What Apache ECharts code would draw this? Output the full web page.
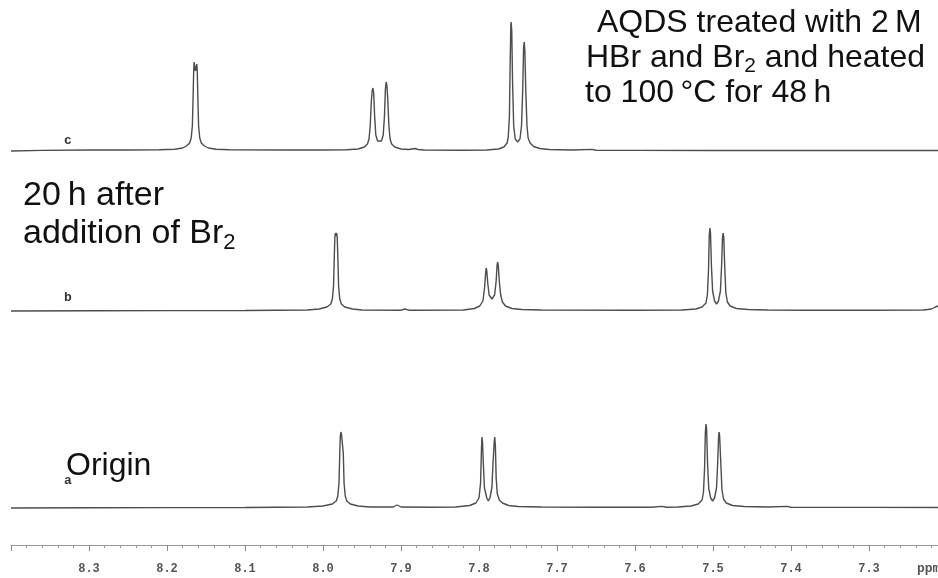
<!DOCTYPE html>
<html>
<head>
<meta charset="utf-8">
<script src="https://cdn.jsdelivr.net/npm/echarts@6/dist/echarts.min.js"></script>
<style>html,body{margin:0;padding:0;background:#fff;overflow:hidden}#c{width:947px;height:578px}</style>
</head>
<body>
<div id="c"></div>
<script>
// Chemical shift axis (ppm) tick labels are produced by the axis (0.1 ppm steps)
const axisMin = 7.2, axisMax = 8.4;

// Trace c: AQDS treated with 2 M HBr and Br2, heated 100 °C 48 h  [ppm, intensity]
const traceC = [
[8.40,0],[8.36,0.6],[8.30,1],[8.25,1],[8.21,1.2],[8.19,1.8],[8.18,3],[8.175,5],[8.171,8],[8.169,13],[8.1675,25],[8.1665,55],[8.1658,80],[8.1652,89],[8.1643,83],[8.1635,80],[8.1627,84],[8.1618,87],[8.1612,80],[8.1605,55],[8.1595,25],[8.158,13],[8.156,8],[8.152,5],[8.147,3],[8.137,1.8],[8.12,1.2],[8.05,1],[8.00,1],
[7.97,1.2],[7.955,2],[7.947,4],[7.943,7],[7.941,12],[7.9395,25],[7.938,50],[7.937,60],[7.936,63],[7.935,58],[7.9338,35],[7.9323,16],[7.930,10],[7.9275,8.5],[7.925,10],[7.9228,16],[7.9212,35],[7.920,62],[7.919,69],[7.918,65],[7.917,52],[7.9155,25],[7.914,12],[7.912,7],[7.908,4],[7.900,2],[7.89,1.5],[7.882,2.5],[7.878,1.5],[7.87,1],[7.82,0.8],
[7.79,1],[7.775,2],[7.768,4],[7.764,8],[7.7625,14],[7.761,35],[7.760,90],[7.7592,125],[7.7588,129],[7.758,120],[7.757,70],[7.7555,25],[7.7535,12],[7.7505,9],[7.7475,12],[7.7455,25],[7.744,60],[7.7428,104],[7.742,109],[7.7412,100],[7.740,60],[7.7385,25],[7.737,13],[7.7345,8],[7.730,4.5],[7.722,2.5],[7.71,1.5],[7.68,1],[7.655,1.6],[7.65,0.8],[7.60,0.6],[7.50,0.5],[7.40,0.5],[7.30,0.5],[7.20,0.5]
];

// Trace b: 20 h after addition of Br2
const traceB = [
[8.40,0],[8.30,0.3],[8.20,0.4],[8.10,0.5],[8.02,1],[8.005,2],[7.995,4],[7.990,7],[7.988,12],[7.9865,25],[7.9855,55],[7.9848,74],[7.984,78],[7.9832,75],[7.9825,78],[7.9818,74],[7.981,55],[7.980,25],[7.9785,12],[7.9765,7],[7.972,4],[7.962,2],[7.95,1],[7.90,0.8],[7.895,2],[7.89,0.8],
[7.82,1],[7.806,2.5],[7.799,5],[7.795,10],[7.793,22],[7.7915,38],[7.7908,43],[7.790,40],[7.7888,28],[7.787,16],[7.7835,12],[7.780,16],[7.778,30],[7.7768,46],[7.776,49],[7.7752,45],[7.774,30],[7.7722,16],[7.770,9],[7.766,5],[7.758,2.5],[7.745,1.5],[7.72,1],[7.60,0.8],
[7.54,1],[7.522,2],[7.514,4],[7.509,8],[7.5072,16],[7.5058,40],[7.5048,75],[7.504,83],[7.5032,78],[7.502,45],[7.5005,20],[7.498,10],[7.4955,7],[7.493,10],[7.4905,20],[7.489,45],[7.4878,74],[7.487,78],[7.4862,74],[7.485,45],[7.4835,18],[7.4815,9],[7.478,5],[7.470,2.5],[7.455,1.5],[7.43,1],[7.38,0.8],[7.30,0.8],[7.23,1],[7.22,2],[7.215,4],[7.2115,5],[7.20,5]
];

// Trace a: origin
const traceA = [
[8.40,0],[8.30,0.3],[8.20,0.4],[8.10,0.5],[8.02,1],[8.000,2],[7.988,4],[7.983,7],[7.981,12],[7.9795,25],[7.9785,55],[7.9778,72],[7.977,76],[7.9762,73],[7.9755,75],[7.9748,72],[7.974,55],[7.973,25],[7.9715,12],[7.9695,7],[7.965,4],[7.955,2],[7.94,1],[7.91,1],[7.905,3],[7.90,1],[7.86,0.8],
[7.83,1],[7.812,2.5],[7.804,5],[7.800,10],[7.798,25],[7.7968,60],[7.7962,71],[7.7955,66],[7.7945,45],[7.793,20],[7.790,10],[7.788,7],[7.786,10],[7.7835,20],[7.782,45],[7.7805,66],[7.7798,71],[7.779,62],[7.778,30],[7.7765,14],[7.774,8],[7.770,5],[7.762,2.5],[7.75,1.5],[7.72,1],[7.65,0.8],[7.58,0.8],[7.565,1.6],[7.56,0.8],
[7.545,1],[7.528,2],[7.519,4],[7.514,8],[7.5122,16],[7.5108,40],[7.5098,76],[7.509,84],[7.5082,79],[7.507,45],[7.5055,20],[7.503,10],[7.5005,7],[7.498,10],[7.4955,20],[7.494,45],[7.4928,72],[7.4922,76],[7.4915,72],[7.490,45],[7.4885,18],[7.4865,9],[7.483,5],[7.475,2.5],[7.46,1.5],[7.43,1],[7.405,1.6],[7.40,0.8],[7.30,0.6],[7.20,0.5]
];

const traceLabels = ['c','b','a'];

const chart = echarts.init(document.getElementById('c'));
const lineStyle = {color:'#4d4d4d', width:1.4};
const gridBase = {left:11, right:0};
const fam = 'Liberation Sans, Arial';
const txt = (x,y,text,fs,rich) => ({type:'text', left:x, top:y, style:{text:text, fontFamily:fam, fontSize:fs, fill:'#111', rich:rich}});
const subRich = (fs) => ({n:{fontFamily:fam, fontSize:fs, fill:'#111'}, s:{fontFamily:fam, fontSize:Math.round(fs*0.66), fill:'#111', padding:[Math.round(fs*0.53),0,0,0]}});

const hiddenX = (gi) => ({type:'value', gridIndex:gi, inverse:true, min:axisMin, max:axisMax, show:false});
const option = {
  animation:false,
  backgroundColor:'#fff',
  grid:[
    Object.assign({top:10, height:150}, gridBase),
    Object.assign({top:200, height:120}, gridBase),
    Object.assign({top:400, height:145}, gridBase)
  ],
  xAxis:[
    hiddenX(0), hiddenX(1),
    {type:'value', gridIndex:2, inverse:true, min:axisMin, max:axisMax, interval:0.1, position:'bottom',
     axisLine:{onZero:false, lineStyle:{color:'#9a9a9a', width:1}},
     axisTick:{show:true, length:6, lineStyle:{color:'#8a8a8a'}},
     minorTick:{show:true, splitNumber:5, length:3, lineStyle:{color:'#9a9a9a'}},
     splitLine:{show:false},
     axisLabel:{margin:18, showMinLabel:false, showMaxLabel:false, color:'#555', fontFamily:'Liberation Mono, DejaVu Sans Mono, monospace', fontWeight:'bold', fontSize:12, formatter:(v)=>v.toFixed(1)}
    }
  ],
  yAxis:[
    {type:'value', gridIndex:0, min:-9, max:141, show:false},
    {type:'value', gridIndex:1, min:-9, max:111, show:false},
    {type:'value', gridIndex:2, min:-37, max:108, show:false}
  ],
  series:[
    {type:'line', xAxisIndex:0, yAxisIndex:0, data:traceC, showSymbol:false, lineStyle:lineStyle, clip:false},
    {type:'line', xAxisIndex:1, yAxisIndex:1, data:traceB, showSymbol:false, lineStyle:lineStyle, clip:false},
    {type:'line', xAxisIndex:2, yAxisIndex:2, data:traceA, showSymbol:false, lineStyle:lineStyle, clip:false}
  ],
  graphic:[
    {type:'text', left:64, top:134, style:{text:traceLabels[0], font:'bold 13px Liberation Mono', fill:'#333'}},
    {type:'text', left:64, top:291, style:{text:traceLabels[1], font:'bold 13px Liberation Mono', fill:'#333'}},
    {type:'text', left:64, top:474, style:{text:traceLabels[2], font:'bold 13px Liberation Mono', fill:'#333'}},
    {type:'text', left:917, top:562, style:{text:'ppm', font:'bold 13px Liberation Mono', fill:'#555'}},
    txt(597, 7, 'AQDS treated with 2\u2009M', 32),
    txt(586, 42, '{n|HBr and Br}{s|2}{n| and heated}', 32, subRich(32)),
    txt(585, 77, 'to 100\u2009\u00b0C for 48\u2009h', 32),
    txt(23, 179, '20\u2009h after', 34),
    txt(23, 217, '{n|addition of Br}{s|2}', 34, subRich(34)),
    txt(66, 450, 'Origin', 32)
  ]
};
chart.setOption(option);
</script>
</body>
</html>
